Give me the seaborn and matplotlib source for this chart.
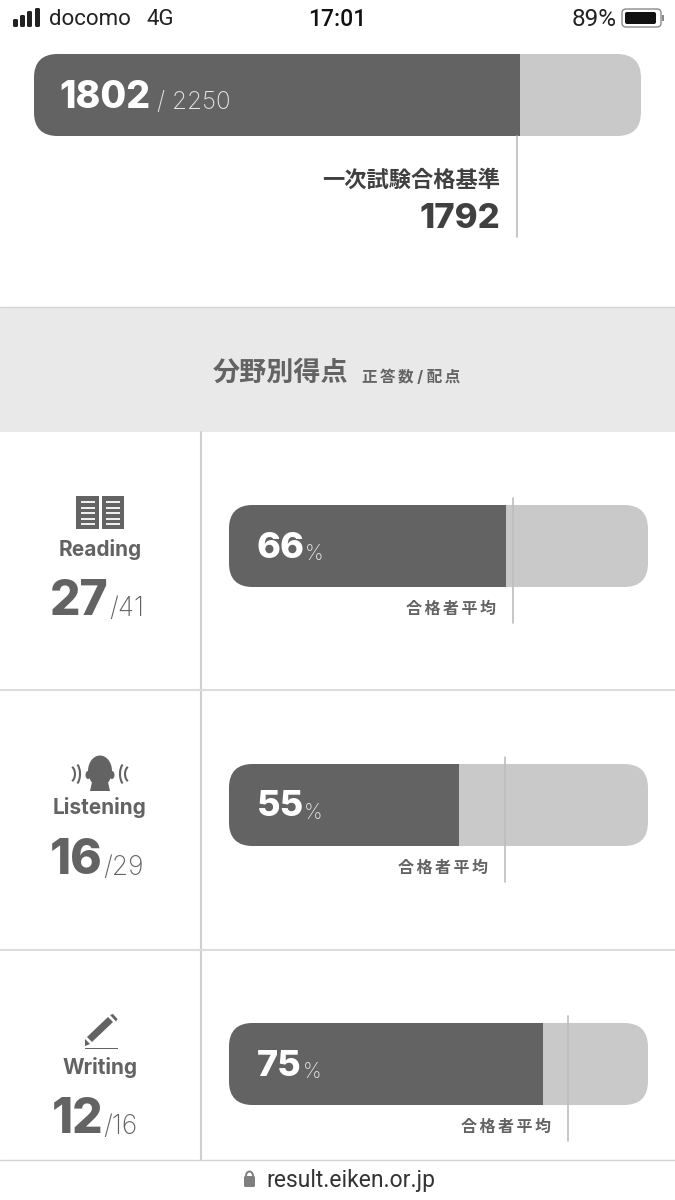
import matplotlib
matplotlib.use('Agg')
import matplotlib.pyplot as plt
from matplotlib.patches import FancyBboxPatch, Rectangle, Ellipse, Polygon, Arc
import seaborn as sns

sns.set_theme(style='white')
plt.rcParams['font.family'] = ['Inter', 'Noto Sans CJK JP', 'DejaVu Sans']

# data
total_score = 1802
total_max = 2250
pass_line = 1792
sections = ['Reading', 'Listening', 'Writing']
correct = [27, 16, 12]
max_points = [41, 29, 16]
percent = [66, 55, 75]
pass_avg = [67.8, 65.9, 80.9]

DARK = '#636363'
LIGHT = '#c9c9c9'
LINE = '#bdbdbd'
W, H = 675, 1200
THIN = '\u2009'

fig = plt.figure(figsize=(6.75, 12), dpi=100, facecolor='white')
page = fig.add_axes([0, 0, 1, 1])
page.set_xlim(0, W)
page.set_ylim(H, 0)
page.axis('off')
page.set_zorder(5)


def draw_bar(left, top, right, bottom, value, maximum, mark, line_top, line_bottom):
    ax = fig.add_axes([left / W, 1 - bottom / H, (right - left) / W, (bottom - top) / H])
    sns.barplot(x=[maximum], y=[''], orient='h', color=LIGHT, saturation=1, width=1, linewidth=0, ax=ax)
    sns.barplot(x=[value], y=[''], orient='h', color=DARK, saturation=1, width=1, linewidth=0, ax=ax)
    ax.set_xlim(0, maximum)
    ax.set_ylim(0.5, -0.5)
    ax.axis('off')
    clip = FancyBboxPatch((left, top), right - left, bottom - top,
                          boxstyle='round,pad=0,rounding_size=24',
                          transform=page.transData, fc='none', ec='none')
    for p in ax.patches:
        p.set_clip_path(clip)
    h = bottom - top
    ax.plot([mark, mark], [(bottom - line_top) / h, (bottom - line_bottom) / h],
            transform=ax.get_xaxis_transform(), color=LINE, lw=1.2, clip_on=False)
    return ax


# status bar
for x, y0 in zip([13, 20, 27, 35], [19, 15, 11, 8]):
    page.add_patch(FancyBboxPatch((x, y0), 5, 27 - y0, boxstyle='round,pad=0,rounding_size=1.5', fc='#222222', ec='none'))
page.text(49, 19.5, 'docomo', fontsize=16, color='#222222', va='center', family='Roboto')
page.text(146, 19.5, '4G', fontsize=16, color='#222222', va='center', family='Roboto')
page.text(337, 19.5, '17:01', fontsize=16.5, color='#111111', va='center', ha='center', family='Roboto', weight='medium')
page.text(617, 19.5, '89%', fontsize=17.5, color='#222222', va='center', ha='right', family='Roboto')
page.add_patch(FancyBboxPatch((622, 9), 39, 18, boxstyle='round,pad=0,rounding_size=4', fc='white', ec='#8a8a8a', lw=1))
page.add_patch(FancyBboxPatch((625, 12), 31, 12, boxstyle='round,pad=0,rounding_size=2', fc='#111111', ec='none'))
page.add_patch(Rectangle((662, 15), 1.5, 6, fc='#8a8a8a', ec='none'))

# total score
draw_bar(34, 54, 641, 136, total_score, total_max, pass_line, 136, 237)
page.text(59, 98, str(total_score), fontsize=27, weight=800, color='white', va='center')
page.text(157, 102, '/ ' + str(total_max), fontsize=17.5, weight='light', color='#e4e4e4', va='center')
page.text(500, 180, '一次試験合格基準', fontsize=16, weight='bold', color='#404040', ha='right', va='center')
page.text(500, 219, str(pass_line), fontsize=25, weight=800, color='#404040', ha='right', va='center')

# section header
page.add_patch(Rectangle((0, 307), W, 125, fc='#e9e9e9', ec='none'))
page.plot([0, W], [307, 307], color='#d4d4d4', lw=1)
page.text(213, 374, '分野別得点', fontsize=19.5, weight='bold', color=DARK, va='center')
page.text(362, 377, THIN.join('正答数') + ' / ' + THIN.join('配点'), fontsize=11.2, weight='bold', color=DARK, va='center')

# grid
page.plot([201, 201], [432, 1160], color='#cfcfcf', lw=1.5)
for y in [690, 950]:
    page.plot([0, W], [y, y], color='#dcdcdc', lw=1.5)
page.plot([0, W], [1160, 1160], color='#d4d4d4', lw=1)

# section rows
row_top = [505, 764, 1023]
for i, name in enumerate(sections):
    t = row_top[i]
    draw_bar(229, t, 648, t + 82, percent[i], 100, pass_avg[i], t - 7, t + 118)
    page.text(257, t + 43, str(percent[i]), fontsize=26, weight=800, color='white', va='center')
    pct_x = 305
    page.text(pct_x if i == 0 else (304 if i == 1 else 303), t + 49, '%', fontsize=15, weight='light', color='#e4e4e4', va='center')
    avg_x = 229 + pass_avg[i] / 100 * 419 - 17
    page.text(avg_x, t + 104, THIN.join('合格者平均'), fontsize=11.5, weight='bold', color=DARK, ha='right', va='center')
    page.text(100, t + 44, name, fontsize=15, weight='bold', color=DARK, ha='center', va='center')
    page.text(109 if i == 0 else 103, t + 97, str(correct[i]), fontsize=34.5, weight=800, color=DARK, ha='right', va='center')
    page.text(109 if i == 0 else 103, t + 104, '/' + str(max_points[i]), fontsize=19, weight='light', color=DARK, ha='left', va='center')

# book icon
for x in [76, 101.5]:
    page.add_patch(Rectangle((x, 496), 22.5, 33, fc=DARK, ec='none'))
    for y in [501, 506.5, 512, 517.5, 523]:
        page.add_patch(Rectangle((x + 4.5, y), 14, 2.2, fc='#eeeeee', ec='none'))

# head icon
page.add_patch(Ellipse((100, 771), 24, 31, fc=DARK, ec='none'))
page.add_patch(Ellipse((88, 775), 5, 8, fc=DARK, ec='none'))
page.add_patch(Ellipse((112, 775), 5, 8, fc=DARK, ec='none'))
page.add_patch(Polygon([(92, 782), (108, 782), (110, 791), (90, 791)], fc=DARK, ec='none'))
for xc, ang in [(68, 0), (132, 180)]:
    page.add_patch(Arc((xc, 774), 14, 18, theta1=ang - 60, theta2=ang + 60, color=DARK, lw=1.5))
    page.add_patch(Arc((xc + (4 if ang == 0 else -4), 774), 16, 26, theta1=ang - 60, theta2=ang + 60, color=DARK, lw=1.5))

# pencil icon
page.add_patch(Polygon([(87, 1037), (108, 1017), (113, 1022), (92, 1042)], fc=DARK, ec='none'))
page.add_patch(Polygon([(110, 1015), (113, 1014), (117.5, 1019), (116, 1021.5)], fc=DARK, ec='none'))
page.add_patch(Polygon([(85, 1039), (90, 1044), (85, 1046)], fc=DARK, ec='none'))
page.add_patch(Rectangle((85, 1047.5), 33, 1.8, fc=DARK, ec='none'))

# url bar
page.add_patch(FancyBboxPatch((244, 1176), 11, 11, boxstyle='round,pad=0,rounding_size=1.5', fc='#7f7f7f', ec='none'))
page.add_patch(Arc((249.5, 1176), 7, 9, theta1=180, theta2=360, color='#7f7f7f', lw=1.4))
page.text(266, 1181, 'result.eiken.or.jp', fontsize=16.5, color='#333333', va='center', family='Roboto')

fig.savefig('out.png', dpi=100, facecolor='white')
